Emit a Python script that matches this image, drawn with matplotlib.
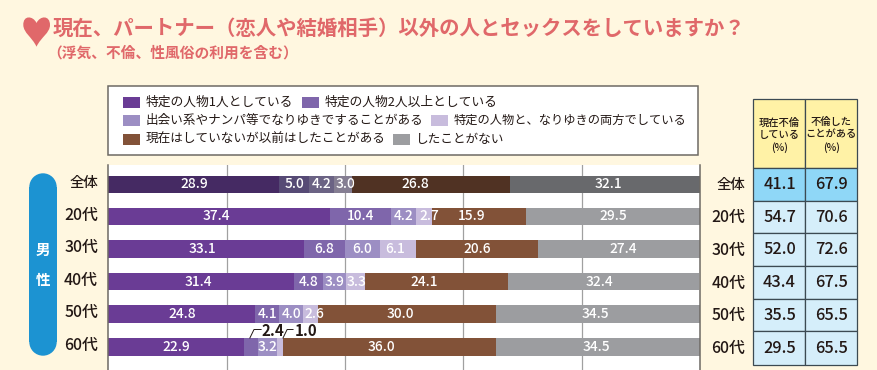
import matplotlib
matplotlib.use("Agg")
import matplotlib.pyplot as plt
from matplotlib.patches import Rectangle, PathPatch
from matplotlib.path import Path

plt.rcParams['font.family'] = ['Noto Sans CJK JP', 'DejaVu Sans']

W, H = 878, 370
title = "現在、パートナー\uFF08恋人や結婚相手\uFF09以外の人とセックスをしていますか\uFF1F"
subtitle = "\uFF08浮気、不倫、性風俗の利用を含む\uFF09"
categories = ["全体", "20代", "30代", "40代", "50代", "60代"]
series_names = ["特定の人物1人としている", "特定の人物2人以上としている",
                "出会い系やナンパ等でなりゆきですることがある", "特定の人物と、なりゆきの両方でしている",
                "現在はしていないが以前はしたことがある", "したことがない"]
s1 = [28.9, 37.4, 33.1, 31.4, 24.8, 22.9]
s2 = [5.0, 10.4, 6.8, 4.8, 4.1, 2.4]
s3 = [4.2, 4.2, 6.0, 3.9, 4.0, 3.2]
s4 = [3.0, 2.7, 6.1, 3.3, 2.6, 1.0]
s5 = [26.8, 15.9, 20.6, 24.1, 30.0, 36.0]
s6 = [32.1, 29.5, 27.4, 32.4, 34.5, 34.5]
series = [s1, s2, s3, s4, s5, s6]
col_current = [41.1, 54.7, 52.0, 43.4, 35.5, 29.5]
col_ever = [67.9, 70.6, 72.6, 67.5, 65.5, 65.5]
col_headers = ["現在不倫\nしている\n(%)", "不倫した\nことがある\n(%)"]

colors = ["#6A3C95", "#7F66AB", "#9C8EC3", "#C8BCDD", "#825238", "#9C9DA0"]
dark_colors = ["#452A63", "#564A75", "#6B6384", "#857E92", "#503223", "#68696C"]
BG = "#FFF7E0"
TITLE = "#E0686A"
INK = "#231815"

fig = plt.figure(figsize=(W / 100, H / 100), dpi=100, facecolor=BG)

def px_axes(l, t, r, b):
    return fig.add_axes([l / W, 1 - b / H, (r - l) / W, (b - t) / H])

page = fig.add_axes([0, 0, 1, 1], zorder=0)
page.set_xlim(0, W); page.set_ylim(H, 0); page.axis("off")

# heart
heart = Path([(36.5, 23), (33, 15.5), (23, 15), (23.3, 25),
              (23.5, 33), (32, 37), (36.5, 46.7),
              (41, 37), (50, 33), (50, 25),
              (50, 15), (40, 15.5), (36.5, 23)],
             [Path.MOVETO] + [Path.CURVE4] * 12)
page.add_patch(PathPatch(heart, fc=TITLE, ec="none"))

page.text(53, 28, title, fontsize=14.7, fontweight="bold", color=TITLE, va="center", ha="left")
page.text(47.5, 52.5, subtitle, fontsize=10.6, fontweight="bold", color=TITLE, va="center", ha="left")

# legend box
page.add_patch(Rectangle((108.5, 85.5), 590, 69, fc="white", ec="#6E6A64", lw=1.1))
legend_pos = [(124, 102), (303, 102), (124, 120.5), (432, 120.5), (124, 139), (394, 139)]
legend_sizes = [9.2, 9.2, 9.05, 8.8, 9.1, 9.1]
for (x, y), name, c, fs in zip(legend_pos, series_names, colors, legend_sizes):
    page.add_patch(Rectangle((x - 0.5, y - 5.5), 17, 11, fc=c, ec="none"))
    page.text(x + 22, y, name, fontsize=fs, color=INK, va="center", ha="left")

# male pill
page.add_patch(Rectangle((29.3, 187), 27.4, 155, fc="#1C93D2", ec="none"))
for cy in (187, 342):
    page.add_patch(plt.Circle((43, cy), 13.7, fc="#1C93D2", ec="none"))
page.text(43, 249.5, "男", fontsize=10.5, fontweight="bold", color="white", ha="center", va="center")
page.text(43, 280, "性", fontsize=10.5, fontweight="bold", color="white", ha="center", va="center")

# stacked bars
ax = px_axes(108.5, 165, 700, 370)
ax.set_xlim(0, 100)
ypos = [184.5, 216.5, 249, 281.5, 314, 347]
ax.set_ylim(370, 165)
ax.set_facecolor("white")
for sp in ("top", "bottom"):
    ax.spines[sp].set_visible(False)
for sp in ("left", "right"):
    ax.spines[sp].set_color("#6E6A64")
    ax.spines[sp].set_linewidth(1.1)
ax.set_xticks([20, 40, 60, 80])
ax.tick_params(length=0, labelbottom=False, labelleft=False)
ax.set_yticks([])
ax.grid(axis="x", color="#A0A0A0", lw=0.9)
ax.set_axisbelow(True)

# labels sit a little off-centre in the source: (row, series) -> shift in pixels
label_dx = {(0, 3): 2.5, (1, 3): 5, (4, 3): 4, (3, 3): 1.5, (2, 3): -3,
            (0, 4): -16, (1, 4): -7, (3, 4): -12, (4, 4): -7, (5, 4): -8,
            (0, 5): 3.5, (2, 5): 4, (3, 5): -4, (4, 5): -3, (5, 5): -2,
            (2, 0): -4, (3, 0): -3, (1, 0): -2.5}
small = {(5, 1), (5, 3)}
for r, cat in enumerate(categories):
    left = 0
    for k, values in enumerate(series):
        v = values[r]
        c = (dark_colors if r == 0 else colors)[k]
        ax.barh(ypos[r], v, left=left, height=17.5, color=c, edgecolor="none", zorder=2)
        if (r, k) not in small:
            ax.annotate(f"{v:.1f}", (left + v / 2, ypos[r]), xytext=(label_dx.get((r, k), 0) * 0.72, 0),
                        textcoords="offset points", color="white", fontsize=9.9, fontweight="medium",
                        ha="center", va="center", zorder=3, annotation_clip=False)
        left += v
    page.text(98, ypos[r] - 1.5, cat, fontsize=10.4 if r == 0 else 11.4, color=INK, ha="right",
              va="center", fontweight="medium")

# small-segment callouts on the last row
cum_a = s1[5]
cum_b = s1[5] + s2[5] + s3[5]
ax.plot([cum_a + 1.0, cum_a + 1.7, cum_a + 2.9], [338, 329.5, 329.5], color=INK, lw=0.7, zorder=4, clip_on=False)
ax.text(cum_a + 3.05, 331.5, f"{s2[5]:.1f}", fontsize=10.8, fontweight="bold", color=INK, va="center", ha="left")
ax.plot([cum_b + 1.0, cum_b + 1.7, cum_b + 2.7], [338, 329.5, 329.5], color=INK, lw=0.7, zorder=4, clip_on=False)
ax.text(cum_b + 3.0, 331.5, f"{s4[5]:.1f}", fontsize=10.8, fontweight="bold", color=INK, va="center", ha="left")

# right-hand table
tx0, tx1, tx2 = 753.5, 805.5, 857
head_t, head_b = 98.5, 168
rows_b = [168, 200.7, 233.3, 266, 298.7, 331.3, 365]
grid = "#3C4A52"
page.add_patch(Rectangle((tx0, head_t), tx1 - tx0, head_b - head_t, fc="#FFF2A6", ec=grid, lw=0.9))
page.add_patch(Rectangle((tx1, head_t), tx2 - tx1, head_b - head_t, fc="#FFF2A6", ec=grid, lw=0.9))
for x, hdr in zip(((tx0 + tx1) / 2, (tx1 + tx2) / 2), col_headers):
    page.text(x, 135, hdr, fontsize=7.4, color=INK, ha="center", va="center", linespacing=1.25, fontweight="medium")
for r, cat in enumerate(categories):
    t, b = rows_b[r], rows_b[r + 1]
    fc = "#8FD7F7" if r == 0 else "#D5EEFA"
    page.add_patch(Rectangle((tx0, t), tx1 - tx0, b - t, fc=fc, ec=grid, lw=0.9))
    page.add_patch(Rectangle((tx1, t), tx2 - tx1, b - t, fc=fc, ec=grid, lw=0.9))
    my = (t + b) / 2
    page.text((tx0 + tx1) / 2, my, f"{col_current[r]:.1f}", fontsize=11.8, color=INK, ha="center", va="center", fontweight="medium")
    page.text((tx1 + tx2) / 2, my, f"{col_ever[r]:.1f}", fontsize=11.8, color=INK, ha="center", va="center", fontweight="medium")
    page.text(745.5, my + 0.7, cat, fontsize=10.4 if r == 0 else 11.4, color=INK, ha="right", va="center", fontweight="medium")

fig.savefig("out.png", dpi=100, facecolor=BG)
